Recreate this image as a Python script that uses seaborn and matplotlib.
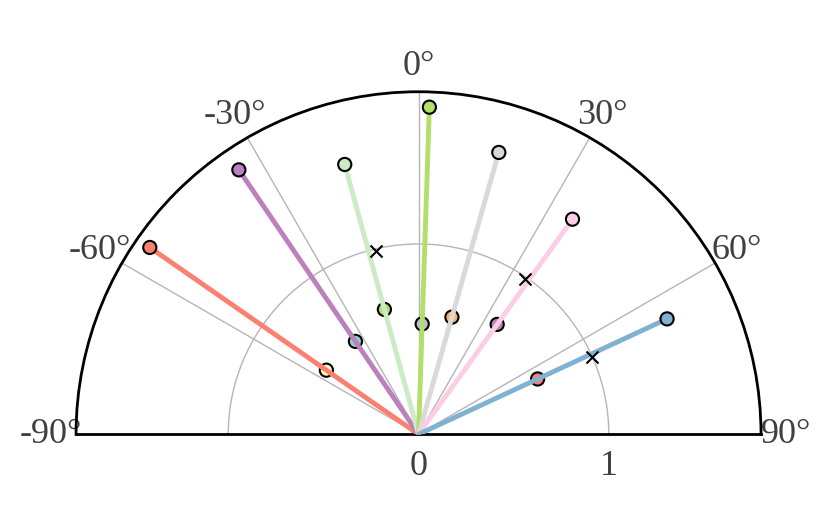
import numpy as np
import pandas as pd
import matplotlib
matplotlib.use("Agg")
import matplotlib.pyplot as plt
import seaborn as sns

# spokes: angle (deg, clockwise from top), tip radius, inner point radius
spoke_names = ["a", "b", "c", "d", "e", "f", "g"]
spoke_angle = [-55.2, -34.2, -15.3, 1.9, 15.9, 35.6, 65.1]
tip_r = [1.72, 1.68, 1.47, 1.72, 1.54, 1.39, 1.44]
mid_r = [0.59, 0.59, 0.68, 0.58, 0.64, 0.71, 0.69]
# Set3 palette indices for line colour and inner marker colour
line_col_idx = [3, 9, 10, 6, 8, 7, 4]
mid_col_idx = [1, 0, 6, 2, 5, 9, 3]

# cross markers
cross_angle = [-12.9, 34.6, 66.0]
cross_r = [0.99, 0.99, 1.0]

theta_ticks = [-90, -60, -30, 0, 30, 60, 90]
r_ticks = [0, 1]
r_max = 1.8

pal = sns.color_palette("Set3", 12)

sns.set_style("white")
plt.rcParams["font.family"] = ["Liberation Serif", "DejaVu Serif"]

fig = plt.figure(figsize=(8.31, 5.05), dpi=100)
# square box; the half disc sits in its vertical middle
ax = fig.add_axes([0.0915, -0.199, 0.8243, 1.3564], projection="polar")
ax.set_theta_zero_location("N")
ax.set_theta_direction(-1)
ax.set_thetamin(-90)
ax.set_thetamax(90)

# inner points sit under the lines
mids = pd.DataFrame({"spoke": spoke_names, "theta": np.deg2rad(spoke_angle), "r": mid_r})
mid_pal = {n: pal[i] for n, i in zip(spoke_names, mid_col_idx)}
sns.scatterplot(data=mids, x="theta", y="r", hue="spoke", palette=mid_pal,
                s=90, edgecolor="black", linewidth=1.5, legend=False, ax=ax,
                zorder=2)

# origin point
ax.scatter([0], [0], s=90, color=pal[6], edgecolor="black", linewidth=1.5,
           zorder=2)

spokes = pd.DataFrame({
    "spoke": np.repeat(spoke_names, 2),
    "theta": np.deg2rad(np.repeat(spoke_angle, 2)),
    "r": np.ravel([[0, t] for t in tip_r]),
})
line_pal = {n: pal[i] for n, i in zip(spoke_names, line_col_idx)}
sns.lineplot(data=spokes, x="theta", y="r", hue="spoke", palette=line_pal,
             estimator=None, sort=False, linewidth=3.5, legend=False, ax=ax,
             zorder=3)

tips = pd.DataFrame({"spoke": spoke_names, "theta": np.deg2rad(spoke_angle), "r": tip_r})
sns.scatterplot(data=tips, x="theta", y="r", hue="spoke", palette=line_pal,
                s=90, edgecolor="black", linewidth=1.5, legend=False, ax=ax,
                zorder=5)

crosses = pd.DataFrame({"theta": np.deg2rad(cross_angle), "r": cross_r})
sns.scatterplot(data=crosses, x="theta", y="r", marker="x", color="black",
                s=75, linewidth=1.5, legend=False, ax=ax, zorder=5)

ax.set_ylim(0, r_max)
ax.set_xticks(np.deg2rad(theta_ticks))
ax.set_xticklabels([f"{t}°" for t in theta_ticks])
ax.set_yticks(r_ticks)
ax.set_yticklabels([str(t) for t in r_ticks])
ax.set_xlabel("")
ax.set_ylabel("")

ax.grid(True, color="#b5b5b5", linewidth=1)
ax.tick_params(axis="x", length=0, pad=11, labelsize=26, labelcolor="#404040")
ax.tick_params(axis="y", length=0, pad=11, labelsize=26, labelcolor="#404040",
               labelleft=False, labelright=True)
for sp in ax.spines.values():
    sp.set_color("black")
    sp.set_linewidth(2)

fig.savefig("out.png", dpi=100)
